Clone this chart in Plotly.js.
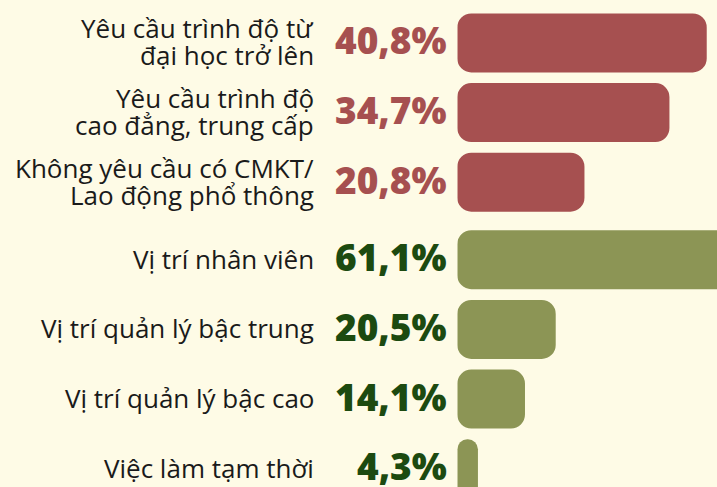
<!DOCTYPE html>
<html>
<head>
<meta charset="utf-8">
<script src="https://cdn.plot.ly/plotly-3.0.1.min.js"></script>
<style>
  html, body { margin: 0; padding: 0; background: #fefbe6; overflow: hidden; }
  #chart { width: 717px; height: 487px; }
</style>
</head>
<body>
<div id="chart"></div>
<script>
// ---- data ----
const eduLabels = ["Yêu cầu trình độ từ<br>đại học trở lên", "Yêu cầu trình độ<br>cao đẳng, trung cấp", "Không yêu cầu có CMKT/<br>Lao động phổ thông"];
const eduValues = [40.8, 34.7, 20.8];
const eduText = ["40,8%", "34,7%", "20,8%"];

const posLabels = ["Vị trí nhân viên", "Vị trí quản lý bậc trung", "Vị trí quản lý bậc cao", "Việc làm tạm thời"];
const posValues = [61.1, 20.5, 14.1, 4.3];
const posText = ["61,1%", "20,5%", "14,1%", "4,3%"];

// ---- style ----
const BG = "#fefbe6";
const RED = "#a65050";
const GREEN = "#8c9555";
const DARKGREEN = "#1c4a10";
const LABEL = "#1a1a1a";
const RADIUS = 14;
const FONT = "'Open Sans', 'Noto Sans', sans-serif";

const eduIds = eduLabels.map((_, i) => "e" + i);
const posIds = posLabels.map((_, i) => "p" + i);

function bars(values, ids, color, xa, ya) {
  return {
    type: "bar", orientation: "h", y: ids, x: values, base: values.map(() => 0),
    xaxis: xa, yaxis: ya, hoverinfo: "skip",
    marker: { color: color, cornerradius: RADIUS, line: { width: 0 } },
    showlegend: false
  };
}

const data = [
  bars(eduValues, eduIds, RED, "x", "y"),
  bars(posValues, posIds, GREEN, "x2", "y2")
];

const LINE_GAP = 27;
const annotations = [];
function addAnn(labels, texts, ids, color, xref, yref) {
  labels.forEach((lab, i) => {
    const lines = lab.split("<br>");
    lines.forEach((ln, j) => {
      annotations.push({
        xref: xref, yref: yref, x: 0, y: ids[i], xanchor: "right", yanchor: "middle",
        xshift: -141, yshift: ((lines.length - 1) / 2 - j) * LINE_GAP + 1,
        text: ln, showarrow: false, align: "right",
        font: { family: FONT, size: 26, color: LABEL }
      });
    });
    annotations.push({
      xref: xref, yref: yref, x: 0, y: ids[i], xanchor: "right", yanchor: "middle",
      xshift: -8, yshift: 3, text: texts[i], showarrow: false, align: "right",
      font: { family: FONT, size: 37, color: color, weight: 800 }
    });
  });
}
addAnn(eduLabels, eduText, eduIds, RED, "x", "y");
addAnn(posLabels, posText, posIds, DARKGREEN, "x2", "y2");

const hiddenX = { showgrid: false, zeroline: false, showticklabels: false, ticks: "", fixedrange: true };
const hiddenY = { showgrid: false, zeroline: false, showticklabels: false, ticks: "", type: "category", fixedrange: true };

const layout = {
  width: 717, height: 487,
  margin: { l: 0, r: 0, t: 0, b: 0, pad: 0 },
  paper_bgcolor: BG, plot_bgcolor: BG,
  barmode: "overlay", bargap: 0.154,
  showlegend: false,
  xaxis: Object.assign({}, hiddenX, { domain: [0.6378, 1], range: [0, 42.48], anchor: "y" }),
  xaxis2: Object.assign({}, hiddenX, { domain: [0.6378, 1], range: [0, 54.1], anchor: "y2" }),
  yaxis: Object.assign({}, hiddenY, { domain: [0.5544, 0.9833], range: [2.5, -0.5], anchor: "x" }),
  yaxis2: Object.assign({}, hiddenY, { domain: [0, 0.5383], range: [3.261, -0.5], anchor: "x2" }),
  annotations: annotations
};

Plotly.newPlot("chart", data, layout, { displayModeBar: false, staticPlot: true });
</script>
</body>
</html>
